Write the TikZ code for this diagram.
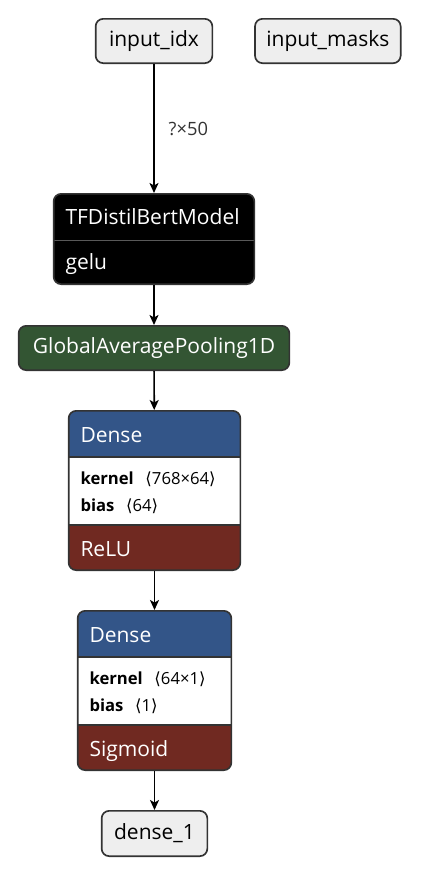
\documentclass[tikz,border=0pt]{standalone}
\usepackage{fontspec}
\setmainfont{Open Sans}
\newfontfamily\symfont{DejaVu Sans}
\usetikzlibrary{positioning,arrows.meta}
\definecolor{edgegray}{HTML}{333333}
\definecolor{iofill}{HTML}{EEEEEE}
\definecolor{layerblue}{HTML}{335588}
\definecolor{actred}{HTML}{702921}
\definecolor{poolgreen}{HTML}{335533}

\begin{document}
\begin{tikzpicture}[
    x = 0.6pt, y = -0.6pt,
    > = {Stealth[length=6pt, width=5.4pt, inset=1.5pt]},
    font = \fontsize{12.6}{15}\selectfont,
    flow/.style = {->, line width=1pt, black},
    io/.style = {draw=edgegray, fill=iofill, line width=1pt, rounded corners=4.5pt,
        minimum height=26.6pt, inner xsep=0pt},
    poolbox/.style = {draw=edgegray, fill=poolgreen, text=white, line width=1pt,
        rounded corners=4.5pt, minimum height=26.6pt, inner xsep=0pt},
    modelbox/.style = {draw=edgegray, fill=black, line width=1pt, rounded corners=4.5pt,
        minimum height=54.2pt, inner sep=0pt,
        path picture={
            \draw[sharp corners, gray!70!black, line width=0.8pt]
                ([yshift=-27.8pt]path picture bounding box.north west) --
                ([yshift=-27.8pt]path picture bounding box.north east);
        }},
    card/.style = {draw=edgegray, line width=1pt, rounded corners=4.5pt,
        minimum height=95.6pt, inner sep=0pt,
        path picture={
            \fill[sharp corners, layerblue] (path picture bounding box.north west) rectangle
                ([yshift=-27.8pt]path picture bounding box.north east);
            \fill[sharp corners, white] ([yshift=-27.8pt]path picture bounding box.north west) rectangle
                ([yshift=-68.4pt]path picture bounding box.north east);
            \fill[sharp corners, actred] ([yshift=-68.4pt]path picture bounding box.north west) rectangle
                (path picture bounding box.south east);
            \draw[sharp corners, edgegray, line width=1pt]
                ([yshift=-27.8pt]path picture bounding box.north west) --
                ([yshift=-27.8pt]path picture bounding box.north east)
                ([yshift=-68.4pt]path picture bounding box.north west) --
                ([yshift=-68.4pt]path picture bounding box.north east);
        }},
    head/.style = {anchor=base west, inner sep=0pt, text=white},
    attr/.style = {anchor=base west, inner sep=0pt, font=\fontsize{10}{12}\selectfont},
    shape label/.style = {right=5pt, midway, font=\fontsize{11}{13}\selectfont, text=edgegray}
]
    \useasboundingbox (0,0) rectangle (422,878);

    % inputs
    \node[io, minimum width=70pt] (idx) at (154,41) {input\_idx};
    \node[io, minimum width=87.4pt, right=24.6pt of idx] (masks) {input\_masks};

    % model
    \node[modelbox, minimum width=120.4pt] (bert) at (154,239) {};
    \node[head] (bertname) at ([xshift=7.4pt, yshift=-19pt]bert.north west) {TFDistilBertModel};
    \node[head] (bertact) at ([xshift=7.4pt, yshift=-45.8pt]bert.north west) {gelu};

    \node[poolbox, minimum width=162.4pt] (pool) at (154,348) {GlobalAveragePooling1D};

    % dense layers
    \node[card, minimum width=103pt] (dense) at (154.5,490.5) {};
    \node[head] (densename) at ([xshift=7.4pt, yshift=-19.4pt]dense.north west) {Dense};
    \node[attr] (densek) at ([xshift=7.4pt, yshift=-44.6pt]dense.north west)
        {\textbf{kernel}\hspace{7pt}{\symfont⟨}768×64{\symfont⟩}};
    \node[attr] (denseb) at ([xshift=7.4pt, yshift=-61pt]dense.north west)
        {\textbf{bias}\hspace{7pt}{\symfont⟨}64{\symfont⟩}};
    \node[head] (denseact) at ([xshift=7.4pt, yshift=-87.6pt]dense.north west) {ReLU};

    \node[card, minimum width=92.2pt] (out) at (154.5,690.5) {};
    \node[head] (outname) at ([xshift=7.4pt, yshift=-19.4pt]out.north west) {Dense};
    \node[attr] (outk) at ([xshift=7.4pt, yshift=-44.6pt]out.north west)
        {\textbf{kernel}\hspace{7pt}{\symfont⟨}64×1{\symfont⟩}};
    \node[attr] (outb) at ([xshift=7.4pt, yshift=-61pt]out.north west)
        {\textbf{bias}\hspace{7pt}{\symfont⟨}1{\symfont⟩}};
    \node[head] (outact) at ([xshift=7.4pt, yshift=-87.6pt]out.north west) {Sigmoid};

    \node[io, minimum width=63.4pt, minimum height=27.2pt] (result) at (154.5,833.5) {dense\_1};

    % edges
    \draw[flow] (idx) -- node[shape label] {?×50} (bert);
    \draw[flow] (bert) -- (pool);
    \draw[flow] (pool) -- (dense);
    \draw[flow] (dense) -- (out);
    \draw[flow] (out) -- (result);
\end{tikzpicture}
\end{document}
